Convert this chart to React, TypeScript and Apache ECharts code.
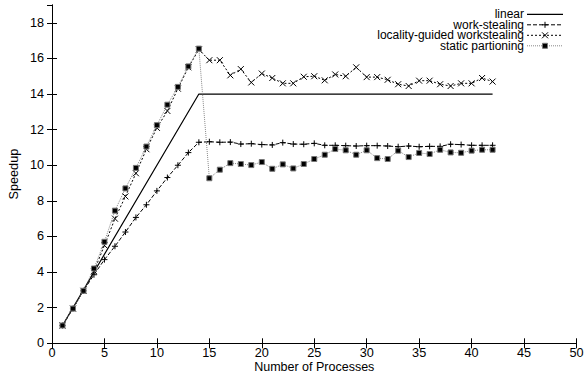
import React, { useEffect, useRef } from "react";
import * as echarts from "echarts";

const processes = [1, 2, 3, 4, 5, 6, 7, 8, 9, 10, 11, 12, 13, 14, 15, 16, 17, 18, 19, 20, 21, 22, 23, 24, 25, 26, 27, 28, 29, 30, 31, 32, 33, 34, 35, 36, 37, 38, 39, 40, 41, 42];

const linearX = [1, 14, 42];
const linearY = [1, 14, 14];

const workStealing = [
  1.0, 1.95, 2.95, 3.85, 4.7, 5.45, 6.25, 7.07, 7.78, 8.56, 9.31, 10.0, 10.71, 11.29,
  11.32, 11.29, 11.3, 11.19, 11.21, 11.16, 11.14, 11.27, 11.19, 11.18, 11.23,
  11.12, 11.12, 11.1, 11.08, 11.1, 11.1, 11.08, 11.04, 11.08, 11.04,
  11.06, 11.06, 11.18, 11.16, 11.12, 11.12, 11.12,
];

const localityGuided = [
  1.0, 1.95, 2.95, 4.05, 5.5, 7.0, 8.25, 9.55, 10.9, 12.1, 13.05, 14.3, 15.5, 16.5,
  15.9, 15.9, 15.05, 15.4, 14.65, 15.15, 14.9, 14.6, 14.6, 14.97,
  15.0, 14.77, 15.1, 15.0, 15.5, 14.95, 14.95, 14.8, 14.55, 14.45,
  14.75, 14.75, 14.55, 14.45, 14.6, 14.6, 14.9, 14.7,
];

const staticPartitioning = [
  1.0, 1.95, 2.95, 4.2, 5.7, 7.45, 8.7, 9.85, 11.05, 12.25, 13.4, 14.4, 15.55, 16.55,
  9.27, 9.75, 10.12, 10.07, 10.01, 10.18, 9.8, 10.05, 9.82, 10.07, 10.35,
  10.59, 10.91, 10.84, 10.59, 10.84, 10.4, 10.35, 10.82, 10.46, 10.69,
  10.63, 10.87, 10.72, 10.7, 10.82, 10.87, 10.87,
];

const xTicks = { min: 0, max: 50, interval: 5 };
const yTicks = { min: 0, max: 19, interval: 2 };

const legendNames = ["linear", "work-stealing", "locality-guided workstealing", "static partioning"];

const FONT = "'Liberation Sans', Arial, Helvetica, sans-serif";
const FS = 12.7;
const LEGEND_FS = 12;

const plusPath = "path://M5,0 L5,10 M0,5 L10,5";
const crossPath = "path://M0,0 L10,10 M10,0 L0,10";

function pairs(xs: number[], ys: number[]) {
  return xs.map((x, i) => [x, ys[i]]);
}

export default function App() {
  const ref = useRef<HTMLDivElement>(null);

  useEffect(() => {
    if (!ref.current) return;
    const chart = echarts.init(ref.current, undefined, { renderer: "svg" });

    const axisCommon = {
      type: "value" as const,
      axisLine: { show: true, lineStyle: { color: "#000", width: 1 } },
      axisTick: { show: true, inside: true, length: 5, lineStyle: { color: "#000", width: 1 } },
      splitLine: { show: false },
    };

    const legendX = 524;
    const lineStart = 527;
    const lineEnd = 563;
    const markX = 545;
    const rows = [14.3, 24.8, 35.3, 45.8];

    const graphics: any[] = [];
    legendNames.forEach((name, i) => {
      graphics.push({
        type: "text",
        x: legendX,
        y: rows[i],
        style: {
          text: name,
          fill: "#000",
          font: `${LEGEND_FS}px ${FONT}`,
          lineHeight: 10.5,
          align: "right",
          verticalAlign: "middle",
        },
      });
    });
    graphics.push({ type: "line", shape: { x1: lineStart, y1: rows[0], x2: lineEnd, y2: rows[0] }, style: { stroke: "#000", lineWidth: 1.2 } });
    graphics.push({ type: "line", shape: { x1: lineStart, y1: rows[1], x2: lineEnd, y2: rows[1] }, style: { stroke: "#000", lineWidth: 1, lineDash: [4, 2] } });
    graphics.push({ type: "line", shape: { x1: markX - 3, y1: rows[1], x2: markX + 3, y2: rows[1] }, style: { stroke: "#000", lineWidth: 1 } });
    graphics.push({ type: "line", shape: { x1: markX, y1: rows[1] - 3, x2: markX, y2: rows[1] + 3 }, style: { stroke: "#000", lineWidth: 1 } });
    graphics.push({ type: "line", shape: { x1: lineStart, y1: rows[2], x2: lineEnd, y2: rows[2] }, style: { stroke: "#000", lineWidth: 1, lineDash: [2, 2] } });
    graphics.push({ type: "line", shape: { x1: markX - 3, y1: rows[2] - 3, x2: markX + 3, y2: rows[2] + 3 }, style: { stroke: "#000", lineWidth: 1 } });
    graphics.push({ type: "line", shape: { x1: markX + 3, y1: rows[2] - 3, x2: markX - 3, y2: rows[2] + 3 }, style: { stroke: "#000", lineWidth: 1 } });
    graphics.push({ type: "line", shape: { x1: lineStart, y1: rows[3], x2: lineEnd, y2: rows[3] }, style: { stroke: "#888", lineWidth: 1, lineDash: [1, 1] } });
    graphics.push({ type: "rect", shape: { x: markX - 2.5, y: rows[3] - 2.5, width: 5, height: 5 }, style: { fill: "#000", stroke: "#777", lineWidth: 1 } });

    chart.setOption({
      animation: false,
      backgroundColor: "#fff",
      textStyle: { fontFamily: FONT },
      grid: {
        left: 52,
        right: 7.5,
        top: 5,
        bottom: 29.7,
        containLabel: false,
        outerBoundsMode: "none",
        show: false,
      },
      xAxis: [
        {
          ...axisCommon,
          ...xTicks,
          position: "bottom",
          name: "Number of Processes",
          nameLocation: "middle",
          nameGap: 17.5,
          nameMoveOverlap: false,
          nameTextStyle: { color: "#000", fontSize: 12.5, lineHeight: 12, fontFamily: FONT },
          axisLabel: { show: true, color: "#000", fontSize: FS, lineHeight: 12, fontFamily: FONT, margin: 4 },
        },
        {
          ...axisCommon,
          ...xTicks,
          position: "top",
          axisLabel: { show: false },
        },
      ],
      yAxis: [
        {
          ...axisCommon,
          ...yTicks,
          position: "left",
          name: "Speedup",
          nameLocation: "middle",
          nameGap: 32,
          nameRotate: 90,
          nameMoveOverlap: false,
          nameTextStyle: { color: "#000", fontSize: FS, fontFamily: FONT },
          axisLabel: { show: true, color: "#000", fontSize: FS, fontFamily: FONT, margin: 8, showMaxLabel: false },
        },
        {
          ...axisCommon,
          ...yTicks,
          position: "right",
          axisLabel: { show: false },
        },
      ],
      graphic: graphics,
      series: [
        {
          name: legendNames[0],
          type: "line",
          data: pairs(linearX, linearY),
          showSymbol: false,
          symbol: "none",
          lineStyle: { color: "#000", width: 1.2, type: "solid" },
          z: 2,
        },
        {
          name: legendNames[1],
          type: "line",
          data: pairs(processes, workStealing),
          symbol: plusPath,
          symbolSize: 6,
          itemStyle: { color: "#000", borderColor: "#000", borderWidth: 1 },
          lineStyle: { color: "#000", width: 1, type: [4, 2] },
          z: 3,
        },
        {
          name: legendNames[2],
          type: "line",
          data: pairs(processes, localityGuided),
          symbol: crossPath,
          symbolSize: 6,
          itemStyle: { color: "#000", borderColor: "#000", borderWidth: 1 },
          lineStyle: { color: "#000", width: 1, type: [2, 2] },
          z: 4,
        },
        {
          name: legendNames[3],
          type: "line",
          data: pairs(processes, staticPartitioning),
          symbol: "rect",
          symbolSize: 5,
          itemStyle: { color: "#000", borderColor: "#777", borderWidth: 1 },
          lineStyle: { color: "#888", width: 1, type: [1, 1] },
          z: 5,
        },
      ],
    });

    return () => chart.dispose();
  }, []);

  return (
    <div
      ref={ref}
      style={{ position: "absolute", left: 0, top: 0, width: 584, height: 373, background: "#fff" }}
    />
  );
}
